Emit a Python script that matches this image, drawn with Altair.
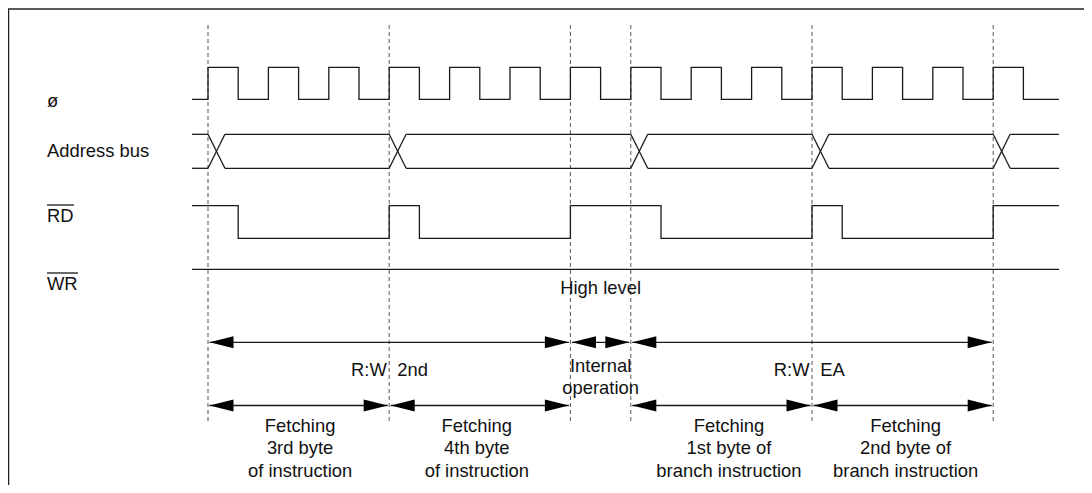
import altair as alt
import pandas as pd

# ---------------- Data (time in half clock cycles; t = 0 starts the 3rd-byte fetch) ----------------
T_START, T_END = -0.53, 28.18
CLOCK_EDGES = [0, 1, 2, 3, 4, 5, 6, 7, 8, 9, 10, 11, 12, 13, 14, 15, 16, 17, 18, 19,
               20, 21, 22, 23, 24, 25, 26, 27]
CLOCK_INITIAL = 0
ADDRESS_CHANGES = [0, 6, 14, 20, 26]
ADDRESS_SWITCH = 0.56
RD_EDGES = [1, 6, 7, 12, 15, 20, 21, 26]
RD_INITIAL = 1
CYCLE_BOUNDS = [0, 6, 12, 14, 20, 26]
STATE_SPAN_START = [0, 12, 14]
STATE_SPAN_END = [12, 14, 26]
FETCH_SPAN_START = [0, 6, 14, 20]
FETCH_SPAN_END = [6, 12, 20, 26]
FETCH_LABEL_T = [3.05, 8.9, 17.25, 23.1]
FETCH_LINE1 = ["Fetching", "Fetching", "Fetching", "Fetching"]
FETCH_LINE2 = ["3rd byte", "4th byte", "1st byte of", "2nd byte of"]
FETCH_LINE3 = ["of instruction", "of instruction", "branch instruction", "branch instruction"]
SIGNAL_NAMES = ["ø", "Address bus", "RD", "WR"]
RW_NOTE_T = [6, 20]
RW_NOTE_RIGHT = ["2nd", "EA"]

# ---------------- Layout (page pixels) ----------------
MARGIN, CHART_W, CHART_H = 8, 1076, 477
T0_PAGE, UNIT = 208.0, 30.2
def t_of(px):
    return (px - T0_PAGE) / UNIT

CLK_HI, CLK_LO = 67.3, 99.3
ADR_HI, ADR_LO = 134.3, 168.3
RD_HI, RD_LO = 205.7, 238.3
WR_Y = 269.3
DASH_TOP, DASH_BOT = 25, 422
ROW1_Y, ROW2_Y = 342.3, 405.5
LABEL_T = t_of(47)
SIGNAL_BASE = [106.5, 156.5, 222.3, 290.0]
OVERLINE_Y = [205.0, 273.0]
OVERLINE_W = [27, 31]
TIP_GAP = 0.05
INK = "#1a1a1a"
FONT = "Liberation Sans"
FS = 18.4

x_dom = [t_of(MARGIN), t_of(MARGIN + CHART_W)]
y_dom = [MARGIN, MARGIN + CHART_H]
xs = alt.Scale(domain=x_dom, nice=False, zero=False)
ys = alt.Scale(domain=y_dom, reverse=True, nice=False, zero=False)

def X(f="t"):
    return alt.X(f, type="quantitative", scale=xs, axis=None)
def Y(f="y"):
    return alt.Y(f, type="quantitative", scale=ys, axis=None)

# ---- step waveforms (clock, RD) ----
rows = []
def add_step(name, init, edges, hi, lo):
    lvl = init
    rows.append(dict(sig=name, t=T_START, y=hi if lvl else lo))
    for e in edges:
        lvl = 1 - lvl
        rows.append(dict(sig=name, t=e, y=hi if lvl else lo))
    rows.append(dict(sig=name, t=T_END, y=hi if lvl else lo))
add_step("clk", CLOCK_INITIAL, CLOCK_EDGES, CLK_HI, CLK_LO)
add_step("rd", RD_INITIAL, RD_EDGES, RD_HI, RD_LO)
steps = pd.DataFrame(rows)

# ---- solid segments ----
seg = []
prev = T_START
for c in ADDRESS_CHANGES:
    seg.append(dict(t=prev, t2=c, y=ADR_HI, y2=ADR_HI))
    seg.append(dict(t=prev, t2=c, y=ADR_LO, y2=ADR_LO))
    seg.append(dict(t=c, t2=c + ADDRESS_SWITCH, y=ADR_HI, y2=ADR_LO))
    seg.append(dict(t=c, t2=c + ADDRESS_SWITCH, y=ADR_LO, y2=ADR_HI))
    prev = c + ADDRESS_SWITCH
seg.append(dict(t=prev, t2=T_END, y=ADR_HI, y2=ADR_HI))
seg.append(dict(t=prev, t2=T_END, y=ADR_LO, y2=ADR_LO))
seg.append(dict(t=T_START, t2=T_END, y=WR_Y, y2=WR_Y))
heads = []
for s, e in zip(STATE_SPAN_START, STATE_SPAN_END):
    seg.append(dict(t=s + TIP_GAP, t2=e - TIP_GAP, y=ROW1_Y, y2=ROW1_Y))
    heads.append(dict(t=s + TIP_GAP, y=ROW1_Y, d="L"))
    heads.append(dict(t=e - TIP_GAP, y=ROW1_Y, d="R"))
for s, e in zip(FETCH_SPAN_START, FETCH_SPAN_END):
    seg.append(dict(t=s + TIP_GAP, t2=e - TIP_GAP, y=ROW2_Y, y2=ROW2_Y))
    heads.append(dict(t=s + TIP_GAP, y=ROW2_Y, d="L"))
    heads.append(dict(t=e - TIP_GAP, y=ROW2_Y, d="R"))
for oy, ow in zip(OVERLINE_Y, OVERLINE_W):
    seg.append(dict(t=LABEL_T, t2=t_of(47 + ow), y=oy, y2=oy))
segs = pd.DataFrame(seg)
heads = pd.DataFrame(heads)
dash = pd.DataFrame(dict(t=CYCLE_BOUNDS, y=[DASH_TOP] * len(CYCLE_BOUNDS),
                         y2=[DASH_BOT] * len(CYCLE_BOUNDS)))

# ---- texts ----
left_txt = [dict(t=LABEL_T, y=b, text=n) for n, b in zip(SIGNAL_NAMES, SIGNAL_BASE)]
for tt, lab in zip(RW_NOTE_T, RW_NOTE_RIGHT):
    left_txt.append(dict(t=tt + 0.27, y=376, text=lab))
right_txt = [dict(t=tt - 0.08, y=376, text="R:W") for tt in RW_NOTE_T]
mid = (12 + 14) / 2
center_txt = [dict(t=mid, y=294, text="High level"),
              dict(t=mid, y=371.7, text="Internal"),
              dict(t=mid, y=394, text="operation")]
for tt, a, b, c in zip(FETCH_LABEL_T, FETCH_LINE1, FETCH_LINE2, FETCH_LINE3):
    center_txt += [dict(t=tt, y=431.5, text=a), dict(t=tt, y=454, text=b),
                   dict(t=tt, y=476.8, text=c)]

base = alt.Chart()
steps_l = alt.Chart(steps).mark_line(interpolate="step-after", color=INK, strokeWidth=1.3).encode(
    x=X(), y=Y(), detail="sig:N")
segs_l = alt.Chart(segs).mark_rule(color=INK, strokeWidth=1.3).encode(
    x=X(), x2="t2", y=Y(), y2="y2")
dash_l = alt.Chart(dash).mark_rule(color="#555555", strokeWidth=1, strokeDash=[4, 3]).encode(
    x=X(), y=Y(), y2="y2")
PATH_R = "M0,0 L-2,-0.5 L-2,0.5 Z"
PATH_L = "M0,0 L2,-0.5 L2,0.5 Z"
heads_l = alt.Chart(heads).mark_point(filled=True, opacity=1, size=576, strokeWidth=0, color="#000000").encode(
    x=X(), y=Y(),
    shape=alt.Shape("d:N", scale=alt.Scale(domain=["L", "R"], range=[PATH_L, PATH_R]), legend=None))
def txt(df, align):
    return alt.Chart(pd.DataFrame(df)).mark_text(
        align=align, baseline="alphabetic", font=FONT, fontSize=FS, color="#111111").encode(
        x=X(), y=Y(), text="text:N")
frame_top = alt.Chart(pd.DataFrame({"a": [0]})).mark_rule(color="#222222", strokeWidth=1.5).encode(
    x=alt.value(0), x2=alt.value(CHART_W), y=alt.value(1))
frame_left = alt.Chart(pd.DataFrame({"a": [0]})).mark_rule(color="#222222", strokeWidth=1.5).encode(
    x=alt.value(0.5), y=alt.value(1), y2=alt.value(CHART_H))

chart = alt.layer(
    frame_top, frame_left, dash_l, steps_l, segs_l, heads_l,
    txt(left_txt, "left"), txt(right_txt, "right"), txt(center_txt, "center")
).properties(
    width=CHART_W, height=CHART_H, padding=0,
    autosize=alt.AutoSizeParams(type="none"),
    background="white"
).configure_view(stroke=None)

chart.save("out.html", embed_options={"renderer": "svg", "actions": False})
